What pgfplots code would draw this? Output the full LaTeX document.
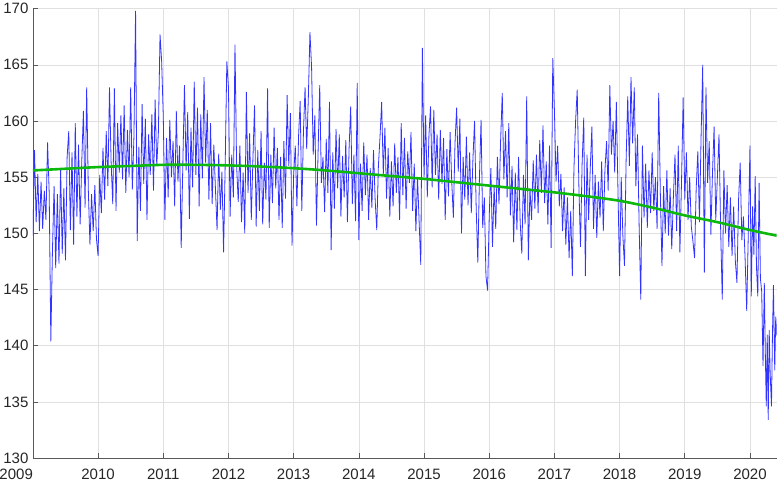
\documentclass[border=0pt]{standalone}
\usepackage{pgfplots}
\pgfplotsset{compat=1.18}
\usepackage{fontspec}
\setmainfont{Liberation Sans}
\definecolor{lblue}{rgb}{0.2,0.2,1}
\definecolor{tgreen}{rgb}{0.05,0.72,0.05}
\begin{document}
\begin{tikzpicture}
\begin{axis}[
  scale only axis, width=743bp, height=449bp,
  xmin=2009, xmax=2020.41, ymin=130, ymax=170,
  xtick={2009,2010,2011,2012,2013,2014,2015,2016,2017,2018,2019,2020},
  xticklabels={\llap{2009},2010,2011,2012,2013,2014,2015,2016,2017,2018,2019,2020},
  ytick={130,135,140,145,150,155,160,165,170},
  /pgf/number format/assume math mode=true,
  /pgf/number format/1000 sep={},
  tick label style={font=\fontsize{15bp}{17bp}\selectfont, text=black!85},
  xticklabel style={yshift=-7bp},
  yticklabel style={xshift=-1bp},
  axis x line*=bottom, axis y line*=left,
  axis line style={-, draw=black!65, line width=0.6bp},
  tick align=inside, major tick length=5bp,
  tick style={draw=black!65, line width=0.6bp},
  grid=major, major grid style={draw=black!12, line width=0.6bp},
]
\addplot[lblue, line width=0.8bp] coordinates {
(2009.000,149.8)(2009.025,157.4)(2009.050,151.0)(2009.075,155.3)(2009.100,150.2)(2009.125,154.6)(2009.150,150.4)(2009.175,153.8)(2009.200,151.2)(2009.225,158.1)
(2009.250,153.6)(2009.275,140.4)(2009.300,148.5)(2009.325,154.2)(2009.350,146.9)(2009.375,153.5)(2009.400,147.3)(2009.425,155.8)(2009.450,148.2)(2009.475,154.0)
(2009.500,147.6)(2009.525,156.8)(2009.550,159.1)(2009.575,150.3)(2009.600,157.2)(2009.625,149.0)(2009.650,159.8)(2009.675,151.5)(2009.700,157.9)(2009.725,150.8)
(2009.750,156.5)(2009.775,160.9)(2009.800,152.3)(2009.825,163.0)(2009.850,153.9)(2009.875,149.0)(2009.900,153.5)(2009.925,150.2)(2009.950,154.3)(2009.975,149.5)
(2010.000,148.0)(2010.025,155.2)(2010.050,151.8)(2010.075,157.6)(2010.100,153.0)(2010.125,159.1)(2010.150,154.2)(2010.175,163.0)(2010.200,156.3)(2010.225,152.6)
(2010.250,162.9)(2010.275,152.0)(2010.300,159.8)(2010.325,155.4)(2010.350,160.5)(2010.375,154.8)(2010.400,161.4)(2010.425,153.6)(2010.450,159.2)(2010.475,155.0)
(2010.500,163.0)(2010.525,153.9)(2010.550,158.6)(2010.575,169.8)(2010.600,149.3)(2010.625,157.7)(2010.650,152.0)(2010.675,161.5)(2010.700,154.4)(2010.725,160.2)
(2010.750,151.2)(2010.775,158.8)(2010.800,155.2)(2010.825,160.6)(2010.850,153.8)(2010.875,161.9)(2010.900,156.0)(2010.925,159.0)(2010.950,167.7)(2010.975,165.3)
(2011.000,160.4)(2011.025,151.2)(2011.050,158.5)(2011.075,153.2)(2011.100,160.1)(2011.125,155.0)(2011.150,158.2)(2011.175,152.4)(2011.200,160.9)(2011.225,154.6)
(2011.250,157.8)(2011.275,148.7)(2011.300,156.2)(2011.325,163.2)(2011.350,155.6)(2011.375,160.8)(2011.400,151.3)(2011.425,159.4)(2011.450,154.1)(2011.475,163.5)
(2011.500,155.2)(2011.525,161.2)(2011.550,152.4)(2011.575,160.6)(2011.600,154.9)(2011.625,163.9)(2011.650,156.3)(2011.675,161.0)(2011.700,153.0)(2011.725,159.8)
(2011.750,152.6)(2011.775,157.9)(2011.800,154.0)(2011.825,150.3)(2011.850,157.1)(2011.875,152.1)(2011.900,155.5)(2011.925,148.3)(2011.950,156.2)(2011.975,165.3)
(2012.000,163.0)(2012.025,151.5)(2012.050,157.0)(2012.075,153.2)(2012.100,166.8)(2012.125,156.0)(2012.150,152.8)(2012.175,157.8)(2012.200,151.0)(2012.225,155.4)
(2012.250,150.0)(2012.275,162.6)(2012.300,153.6)(2012.325,158.9)(2012.350,151.2)(2012.375,156.6)(2012.400,161.4)(2012.425,150.6)(2012.450,157.4)(2012.475,152.0)
(2012.500,159.1)(2012.525,150.8)(2012.550,156.3)(2012.575,153.0)(2012.600,162.9)(2012.625,150.5)(2012.650,157.0)(2012.675,152.7)(2012.700,159.4)(2012.725,154.0)
(2012.750,157.6)(2012.775,151.2)(2012.800,156.8)(2012.825,150.5)(2012.850,158.2)(2012.875,153.1)(2012.900,162.3)(2012.925,156.0)(2012.950,160.7)(2012.975,148.9)
(2013.000,155.2)(2013.025,157.8)(2013.050,152.4)(2013.075,158.6)(2013.100,161.8)(2013.125,152.0)(2013.150,159.0)(2013.175,163.0)(2013.200,157.5)(2013.225,162.0)
(2013.250,167.9)(2013.275,164.8)(2013.300,157.0)(2013.325,160.5)(2013.350,150.7)(2013.375,157.3)(2013.400,163.2)(2013.425,154.5)(2013.450,156.8)(2013.475,151.9)
(2013.500,158.4)(2013.525,153.6)(2013.550,161.7)(2013.575,148.5)(2013.600,157.2)(2013.625,152.2)(2013.650,159.3)(2013.675,154.0)(2013.700,158.8)(2013.725,151.5)
(2013.750,156.9)(2013.775,153.2)(2013.800,158.3)(2013.825,151.0)(2013.850,157.5)(2013.875,161.3)(2013.900,152.6)(2013.925,157.0)(2013.950,151.1)(2013.975,163.4)
(2014.000,149.4)(2014.025,156.2)(2014.050,152.0)(2014.075,158.1)(2014.100,153.4)(2014.125,157.0)(2014.150,151.2)(2014.175,155.8)(2014.200,152.3)(2014.225,157.4)
(2014.250,153.0)(2014.275,150.3)(2014.300,156.0)(2014.325,158.6)(2014.350,161.7)(2014.375,155.2)(2014.400,159.4)(2014.425,153.1)(2014.450,157.6)(2014.475,151.5)
(2014.500,156.4)(2014.525,152.4)(2014.550,158.0)(2014.575,153.6)(2014.600,156.8)(2014.625,151.2)(2014.650,159.8)(2014.675,153.4)(2014.700,158.5)(2014.725,152.2)
(2014.750,157.3)(2014.775,154.5)(2014.800,159.0)(2014.825,152.0)(2014.850,156.2)(2014.875,150.2)(2014.900,155.0)(2014.925,151.0)(2014.950,147.2)(2014.975,166.5)
(2015.000,155.0)(2015.025,160.5)(2015.050,153.2)(2015.075,158.7)(2015.100,161.3)(2015.125,154.1)(2015.150,161.0)(2015.175,155.2)(2015.200,158.8)(2015.225,153.0)
(2015.250,159.2)(2015.275,154.4)(2015.300,158.5)(2015.325,151.2)(2015.350,157.5)(2015.375,153.3)(2015.400,159.0)(2015.425,154.6)(2015.450,151.4)(2015.475,158.0)
(2015.500,161.2)(2015.525,155.5)(2015.550,160.2)(2015.575,150.0)(2015.600,156.8)(2015.625,153.0)(2015.650,158.6)(2015.675,152.5)(2015.700,157.2)(2015.725,151.8)
(2015.750,156.6)(2015.775,160.0)(2015.800,152.3)(2015.825,147.4)(2015.850,155.0)(2015.875,160.1)(2015.900,150.5)(2015.925,153.2)(2015.950,146.2)(2015.975,144.9)
(2016.000,151.5)(2016.025,155.8)(2016.050,148.8)(2016.075,154.2)(2016.100,150.4)(2016.125,156.8)(2016.150,152.6)(2016.175,158.3)(2016.200,162.5)(2016.225,154.8)
(2016.250,159.1)(2016.275,153.2)(2016.300,159.8)(2016.325,151.6)(2016.350,156.0)(2016.375,149.2)(2016.400,155.4)(2016.425,150.3)(2016.450,156.8)(2016.475,151.0)
(2016.500,148.2)(2016.525,155.2)(2016.550,150.8)(2016.575,162.2)(2016.600,147.6)(2016.625,154.0)(2016.650,151.2)(2016.675,156.5)(2016.700,152.2)(2016.725,157.0)
(2016.750,151.8)(2016.775,158.3)(2016.800,153.6)(2016.825,159.6)(2016.850,152.7)(2016.875,156.4)(2016.900,150.8)(2016.925,157.8)(2016.950,148.7)(2016.975,165.6)
(2017.000,161.0)(2017.025,154.6)(2017.050,157.8)(2017.075,152.4)(2017.100,155.3)(2017.125,150.2)(2017.150,154.1)(2017.175,149.0)(2017.200,153.2)(2017.225,147.8)
(2017.250,152.0)(2017.275,146.2)(2017.300,155.8)(2017.325,160.0)(2017.350,162.8)(2017.375,154.3)(2017.400,148.8)(2017.425,156.2)(2017.450,160.3)(2017.475,146.2)
(2017.500,157.0)(2017.525,151.2)(2017.550,155.8)(2017.575,159.5)(2017.600,150.4)(2017.625,155.2)(2017.650,149.6)(2017.675,154.6)(2017.700,151.4)(2017.725,156.4)
(2017.750,150.2)(2017.775,155.6)(2017.800,158.2)(2017.825,153.8)(2017.850,163.2)(2017.875,157.0)(2017.900,160.0)(2017.925,155.4)(2017.950,161.7)(2017.975,153.8)
(2018.000,146.2)(2018.025,155.0)(2018.050,149.8)(2018.075,147.1)(2018.100,156.5)(2018.125,162.2)(2018.150,156.0)(2018.175,163.9)(2018.200,158.0)(2018.225,163.0)
(2018.250,154.2)(2018.275,158.8)(2018.300,150.6)(2018.325,144.1)(2018.350,157.8)(2018.375,151.4)(2018.400,156.2)(2018.425,150.5)(2018.450,155.6)(2018.475,151.8)
(2018.500,157.2)(2018.525,152.0)(2018.550,155.0)(2018.575,150.4)(2018.600,162.5)(2018.625,153.6)(2018.650,147.1)(2018.675,154.2)(2018.700,150.0)(2018.725,155.6)
(2018.750,149.8)(2018.775,154.0)(2018.800,148.6)(2018.825,153.2)(2018.850,157.0)(2018.875,150.2)(2018.900,157.8)(2018.925,148.3)(2018.950,154.6)(2018.975,162.1)
(2019.000,153.0)(2019.025,157.2)(2019.050,151.2)(2019.075,155.0)(2019.100,150.6)(2019.125,149.3)(2019.150,147.8)(2019.175,154.0)(2019.200,157.3)(2019.225,151.0)
(2019.250,158.6)(2019.275,165.0)(2019.300,146.5)(2019.325,163.0)(2019.350,154.5)(2019.375,158.2)(2019.400,149.9)(2019.425,155.4)(2019.450,159.5)(2019.475,151.2)
(2019.500,155.0)(2019.525,158.8)(2019.550,150.4)(2019.575,144.1)(2019.600,155.6)(2019.625,150.0)(2019.650,154.3)(2019.675,148.8)(2019.700,153.2)(2019.725,148.0)
(2019.750,152.4)(2019.775,147.6)(2019.800,145.6)(2019.825,153.0)(2019.850,156.3)(2019.875,149.4)(2019.900,151.5)(2019.925,147.8)(2019.950,143.1)(2019.975,150.2)
(2020.000,157.8)(2020.020,144.4)(2020.040,152.4)(2020.060,148.1)(2020.080,155.1)(2020.100,147.0)(2020.120,144.4)(2020.140,154.5)(2020.160,146.0)(2020.180,144.8)
(2020.200,138.2)(2020.220,145.6)(2020.235,139.5)(2020.250,134.6)(2020.265,141.0)(2020.280,133.4)(2020.295,141.4)(2020.310,137.5)(2020.330,134.6)(2020.345,141.0)
(2020.360,145.4)(2020.380,137.8)(2020.395,142.6)(2020.410,140.9)
};
\addplot[tgreen, line width=2.6bp, smooth] coordinates {
(2009.0,155.6)(2009.5,155.75)(2010.0,155.9)(2010.5,156.0)(2011.0,156.1)(2011.5,156.1)(2012.0,156.05)(2012.5,155.95)
(2013.0,155.8)(2013.5,155.6)(2014.0,155.35)(2014.5,155.1)(2015.0,154.85)(2015.5,154.55)(2016.0,154.25)(2016.5,153.95)
(2017.0,153.65)(2017.5,153.3)(2018.0,152.9)(2018.5,152.3)(2019.0,151.6)(2019.5,151.0)(2020.0,150.3)(2020.41,149.8)
};
\end{axis}
\end{tikzpicture}
\end{document}
